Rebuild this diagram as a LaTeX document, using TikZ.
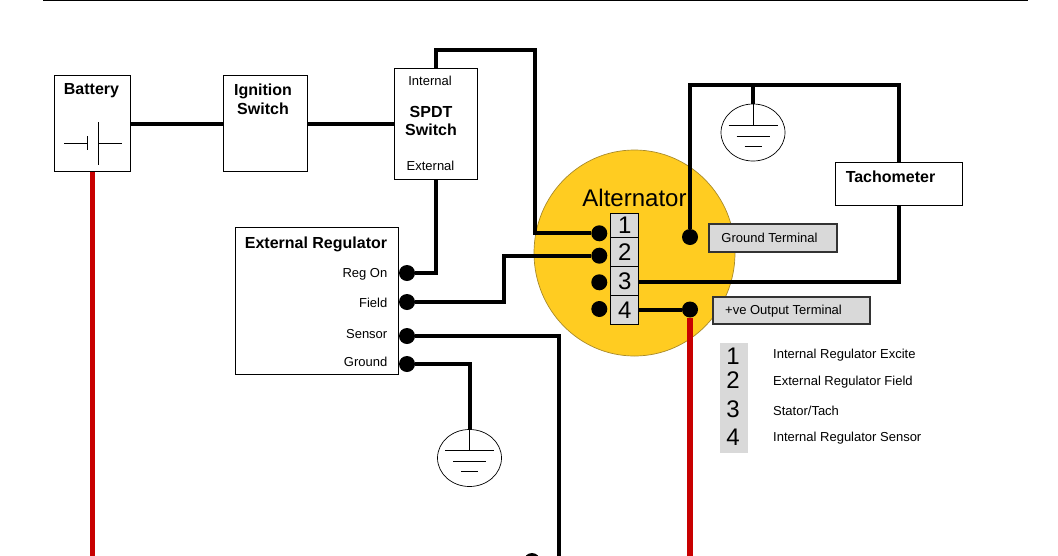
\documentclass[tikz,border=0pt]{standalone}
\usepackage{fontspec}
\setmainfont{Liberation Sans}
\definecolor{altyellow}{HTML}{FFCC21}
\definecolor{altedge}{HTML}{A88A2A}
\definecolor{termgrey}{HTML}{D9D9D9}
\definecolor{redwire}{HTML}{C80000}
\tikzset{
  unit/.style={draw=black, fill=white, line width=0.8pt, rectangle, inner sep=0pt, outer sep=0pt},
  title/.style={font=\fontsize{16}{19}\selectfont\bfseries, align=center, inner sep=0pt},
  small/.style={font=\fontsize{13}{15}\selectfont, inner sep=0pt},
  digit/.style={font=\fontsize{24}{26}\selectfont, inner sep=0pt},
  term/.style={draw=black, fill=termgrey, line width=1.2pt, rectangle, inner sep=0pt, outer sep=0pt, minimum width=28pt},
  tag/.style={draw=black!80, fill=termgrey, line width=1.2pt, rectangle, inner sep=0pt, outer sep=0pt},
  dot/.style={circle, fill=black, inner sep=0pt, outer sep=0pt, minimum size=16pt},
  wire/.style={line width=4pt, black},
  redrun/.style={line width=5.5pt, redwire},
  thin line/.style={line width=0.8pt, black},
  earth/.style={draw=black, fill=white, line width=0.7pt, ellipse, inner sep=0pt, outer sep=0pt, minimum width=64pt, minimum height=57pt}
}
\usetikzlibrary{shapes.geometric}
\begin{document}
\begin{tikzpicture}[x=1pt, y=-1pt]
\clip (0,0) rectangle (1058,555);
\draw[line width=1pt] (43,0.5) -- (1028,0.5);

% alternator body
\node[draw=altedge, fill=altyellow, line width=0.7pt, ellipse, inner sep=0pt, outer sep=0pt,
      minimum width=201pt, minimum height=206pt] (alternator) at (634.5,253) {};
\node[digit] (alttext) at (634.5,198) {Alternator};

% boxes
\node[unit, minimum width=76pt, minimum height=96pt] (battery) at (92.5,123.5) {};
\node[title] (batterytext) at (91.5,91) {Battery};
\node[unit, minimum width=84pt, minimum height=96pt] (ignition) at (265.5,123.5) {};
\node[title] (ignitiontext) at (263,99.5) {Ignition\\[-0.5pt]Switch};
\node[unit, minimum width=83pt, minimum height=111pt] (spdt) at (436,124) {};
\node[small] (internal) at (430,81) {Internal};
\node[title] (spdttext) at (431,121) {SPDT\\[-1.5pt]Switch};
\node[small] (external) at (430.5,166) {External};
\node[unit, minimum width=163pt, minimum height=147pt] (regulator) at (317,301) {};
\node[title] (regtext) at (316,244) {External Regulator};
\node[unit, minimum width=127pt, minimum height=43pt] (tach) at (899,184) {};
\node[title] (tachtext) at (890.5,177) {Tachometer};

\foreach \name/\lbl/\y in {regon/Reg On/274.5, field/Field/303, sensor/Sensor/334, ground/Ground/362} {
  \node[small, anchor=east] (\name text) at (387.5,\y) {\lbl};
}

% battery symbol
\coordinate (plateA) at (87.5,143);
\coordinate (plateB) at (98,143);
\draw[thin line] (64,143) -- (plateA);
\draw[thin line] (87.5,136) -- (87.5,150);
\draw[thin line] (98,122) -- (98,165);
\draw[thin line] (plateB) -- (122,143);

% terminals
\foreach \n/\y/\h in {1/225.5/24.4, 2/252.2/29, 3/281.2/29, 4/310/28.6} {
  \node[term, minimum height=\h pt, digit] (term\n) at (624.7,\y) {\n};
}
\foreach \n/\y in {1/233.3, 2/255.7, 3/282.3, 4/309} {
  \node[dot] (pin\n) at (599.3,\y) {};
}
\node[dot] (gndpin) at (690,237) {};
\node[dot] (outpin) at (690,309.5) {};
\node[dot] (regonpin) at (407,273) {};
\node[dot] (fieldpin) at (407,302) {};
\node[dot] (sensorpin) at (407,336) {};
\node[dot] (groundpin) at (407,364) {};
\node[dot] (lowerpin) at (532,561) {};

% tags
\node[tag, minimum width=128pt, minimum height=28pt] (gndtag) at (773,238) {};
\node[small] (gndtagtext) at (769.5,237.5) {Ground Terminal};
\node[tag, minimum width=157pt, minimum height=27pt] (outtag) at (791.5,310.5) {};
\node[small] (outtagtext) at (783.5,311) {+ve Output Terminal};

% legend
\node[fill=termgrey, inner sep=0pt, minimum width=28pt, minimum height=110pt] (legend) at (734,398) {};
\foreach \n/\y/\ly/\lbl in {1/356/355/Internal Regulator Excite, 2/380/382/External Regulator Field,
                            3/409/411/{Stator/Tach}, 4/437/438/Internal Regulator Sensor} {
  \node[digit] (legend\n) at (733,\y) {\n};
  \node[small, anchor=west] (legendtext\n) at (773,\ly) {\lbl};
}

% earth symbols
\begin{scope}[shift={(753,132.5)}]
  \node[earth] (earthA) at (0,0) {};
  \draw[thin line] (earthA.north) -- (0,-7.5);
  \draw[thin line] (-24.5,-7.5) -- (24.5,-7.5);
  \draw[thin line] (-16.5,3.5) -- (16.5,3.5);
  \draw[thin line] (-8.5,13.5) -- (8.5,13.5);
\end{scope}
\begin{scope}[shift={(469.5,458)}]
  \node[earth] (earthB) at (0,0) {};
  \draw[thin line] (earthB.north) -- (0,-8);
  \draw[thin line] (-24.5,-8) -- (24.5,-8);
  \draw[thin line] (-16.5,3) -- (16.5,3);
  \draw[thin line] (-8.5,13) -- (8.5,13);
\end{scope}

% wires
\coordinate (bendone) at (535,50);
\coordinate (bendfield) at (504,280);
\coordinate (bendtach) at (690,85);
\coordinate (bottomblack) at (559,560);
\coordinate (bottomred) at (690,560);
\draw[wire] (battery.east) -- (ignition.west);
\draw[wire] (ignition.east) -- (spdt.west |- ignition.east);
\draw[wire] (pin1) -| (bendone) -| (spdt.north);
\draw[wire] (regonpin) -| (spdt.south);
\draw[wire] (fieldpin) -| (bendfield) |- (pin2);
\draw[wire] (sensorpin) -| (bottomblack);
\draw[wire] (groundpin) -| (earthB.north);
\draw[wire] (term3.east |- pin3) -| (tach.south);
\draw[wire] (tach.north) |- (bendtach) -- (gndpin);
\draw[wire] (earthA.north) -- (earthA.north |- bendtach);
\draw[wire] (term4.east |- outpin) -- (outpin);
\draw[redrun] (outpin) -- (bottomred);
\draw[redrun] (battery.south) -- (battery.south |- bottomred);
\end{tikzpicture}
\end{document}
